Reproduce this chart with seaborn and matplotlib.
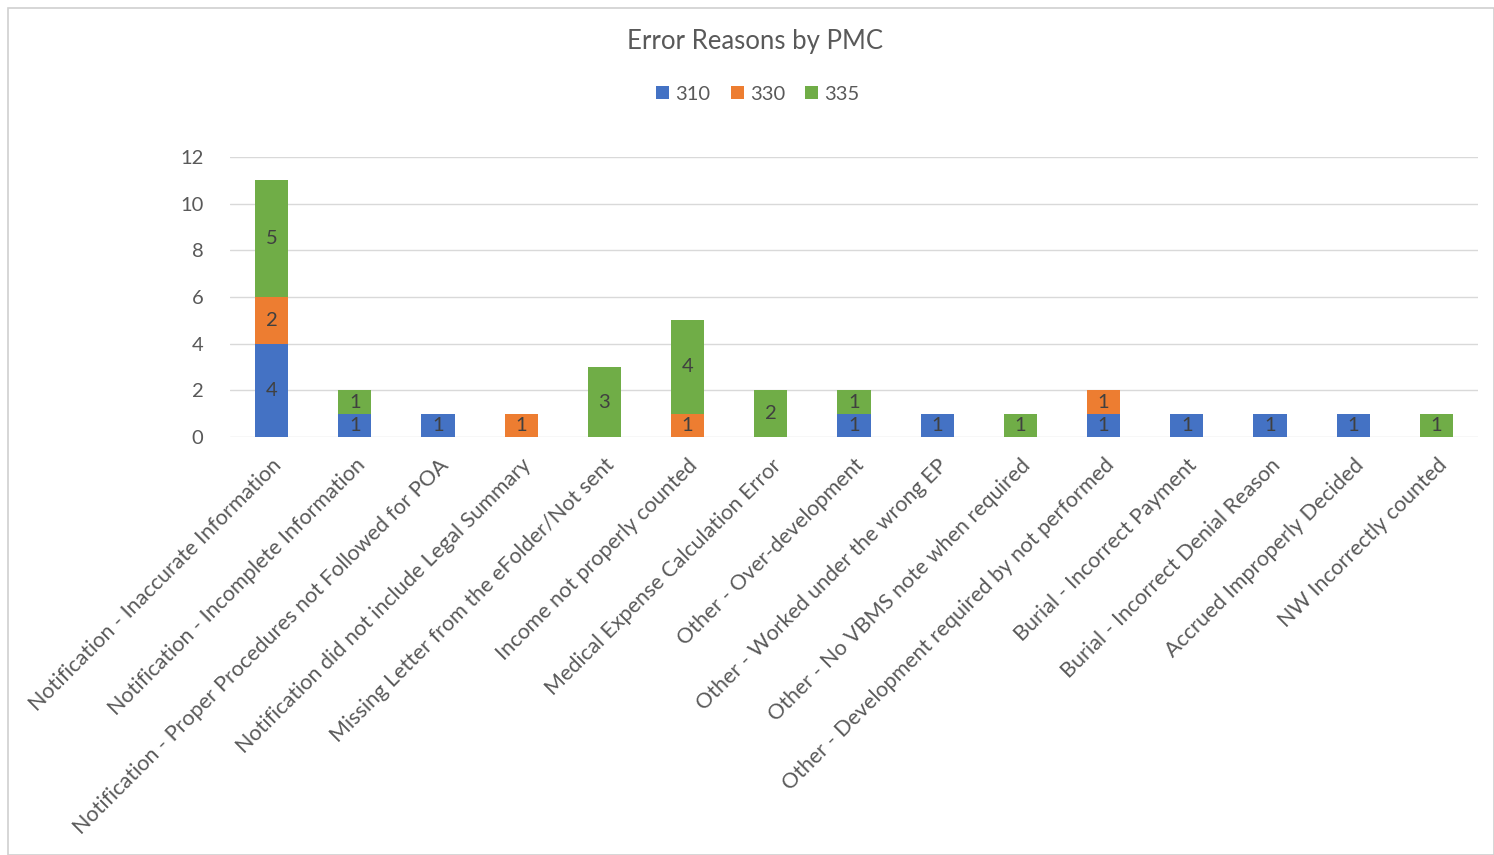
import matplotlib
matplotlib.use('Agg')
import matplotlib.pyplot as plt
from matplotlib.patches import Rectangle, Patch
import seaborn as sns
import pandas as pd

categories = [
    "Notification - Inaccurate Information",
    "Notification - Incomplete Information",
    "Notification - Proper Procedures not Followed for POA",
    "Notification did not include Legal Summary",
    "Missing Letter from the eFolder/Not sent",
    "Income not properly counted",
    "Medical Expense Calculation Error",
    "Other - Over-development",
    "Other - Worked under the wrong EP",
    "Other - No VBMS note when required",
    "Other - Development required by not performed",
    "Burial - Incorrect Payment",
    "Burial - Incorrect Denial Reason",
    "Accrued Improperly Decided",
    "NW Incorrectly counted",
]
s310 = [4, 1, 1, 0, 0, 0, 0, 1, 1, 0, 1, 1, 1, 1, 0]
s330 = [2, 0, 0, 1, 0, 1, 0, 0, 0, 0, 1, 0, 0, 0, 0]
s335 = [5, 1, 0, 0, 3, 4, 2, 1, 0, 1, 0, 0, 0, 0, 1]
series_names = ["310", "330", "335"]
colors = ["#4472C4", "#ED7D31", "#70AD47"]
yticks = [0, 2, 4, 6, 8, 10, 12]
title = "Error Reasons by PMC"

sns.set_theme(style="white")
plt.rcParams['font.family'] = ['Lato', 'DejaVu Sans']
text_color = "#595959"

fig = plt.figure(figsize=(14.94, 8.55), dpi=100)
fig.patches.append(Rectangle((8 / 1494, 0), 1 - 8 / 1494, 1 - 8 / 855, transform=fig.transFigure,
                             fill=False, edgecolor="#D0D0D0", linewidth=1.2))

ax = fig.add_axes([230 / 1494, 1 - 437 / 855, 1248 / 1494, 280 / 855])

df = pd.DataFrame({"category": categories, "310": s310, "330": s330, "335": s335})
cum = df[series_names].cumsum(axis=1)

for name, color in reversed(list(zip(series_names, colors))):
    sns.barplot(x=df["category"], y=cum[name], color=color, width=0.4, ax=ax,
                saturation=1, order=categories, linewidth=0, zorder=3)

for name in series_names:
    for i, v in enumerate(df[name]):
        if v > 0:
            ax.text(i, cum[name][i] - v / 2, str(v), ha="center", va="center",
                    fontsize=14.5, color="#404040", zorder=5)

ax.set_xlim(-0.5, len(categories) - 0.5)
ax.set_ylim(0, 12)
ax.set_yticks(yticks)
ax.set_yticklabels([str(t) for t in yticks], fontsize=14.5, color=text_color)
ax.yaxis.grid(True, color="#D9D9D9", linewidth=1, zorder=0)
ax.set_axisbelow(True)
for s in ax.spines.values():
    s.set_visible(False)
ax.set_xlabel("")
ax.set_ylabel("")
ax.tick_params(axis="y", length=0, pad=19)
ax.tick_params(axis="x", length=0, pad=13)
ax.set_xticks(range(len(categories)))
ax.set_xticklabels(categories, rotation=45, ha="right", va="top", rotation_mode="anchor",
                   fontsize=15.5, color=text_color)

fig.text(755 / 1494, 1 - 41 / 855, title, ha="center", va="center", fontsize=18.5, color=text_color)

handles = [Patch(facecolor=c, edgecolor="none") for c in colors]
fig.legend(handles, series_names, loc="center", bbox_to_anchor=(758 / 1494, 1 - 94 / 855),
           ncol=3, frameon=False, fontsize=14.5, handlelength=0.65, handleheight=0.65,
           handletextpad=0.3, columnspacing=1.0, labelcolor=text_color)

fig.savefig("out.png", dpi=100)
